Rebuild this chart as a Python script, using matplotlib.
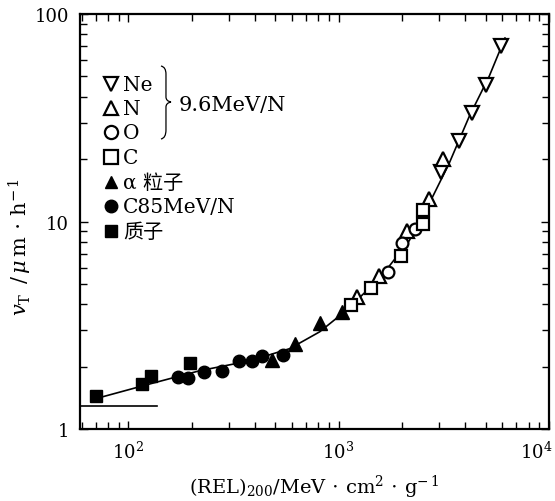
import matplotlib
matplotlib.use("Agg")
import matplotlib.pyplot as plt
from matplotlib.path import Path
from matplotlib.patches import PathPatch
from matplotlib.ticker import LogLocator, NullFormatter
from matplotlib.transforms import ScaledTranslation

plt.rcParams['font.family'] = ['DejaVu Serif', 'Noto Sans CJK SC']
plt.rcParams['mathtext.fontset'] = 'dejavuserif'

# values: (REL)200 in MeV cm^2/g, v_T in um/h
ne_x = [3080, 3740, 4310, 5020, 5930]
ne_y = [17.4, 24.3, 33.2, 45.4, 70.0]
n_x = [1230, 1560, 2120, 2700, 3150]
n_y = [4.34, 5.48, 9.05, 12.9, 19.9]
o_x = [1710, 2010, 2320]
o_y = [5.73, 7.92, 9.25]
c_x = [1150, 1420, 1990, 2530, 2530]
c_y = [3.97, 4.80, 6.85, 9.78, 11.3]
alpha_x = [481, 618, 813, 1033]
alpha_y = [2.15, 2.57, 3.25, 3.67]
c85_x = [173, 192, 229, 279, 336, 387, 432, 543]
c85_y = [1.78, 1.76, 1.88, 1.91, 2.13, 2.13, 2.25, 2.28]
proton_x = [70, 116, 128, 197]
proton_y = [1.44, 1.65, 1.80, 2.08]

# hand-drawn trend curve through the points
fit_x = [70, 127, 219, 378, 586, 813, 1067, 1563, 2168, 2698, 3357, 4180, 5200, 6180]
fit_y = [1.40, 1.65, 1.91, 2.13, 2.44, 2.94, 3.67, 5.30, 8.09, 12.2, 19.1, 32.1, 50.1, 76.6]

# short horizontal reference line at the lower left
base_x = [59, 137]
base_y = [1.29, 1.29]

legend_labels = ['Ne', 'N', 'O', 'C', 'α 粒子', 'C85MeV/N', '质子']

fig = plt.figure(figsize=(5.55, 5.02), dpi=100)
ax = fig.add_axes([0.1441, 0.1434, 0.845, 0.8267])
ax.set_xscale('log')
ax.set_yscale('log')
ax.set_xlim(59, 10000)
ax.set_ylim(1, 100)

ax.plot(fit_x, fit_y, color='black', lw=1.2, zorder=2)
ax.plot(base_x, base_y, color='black', lw=1.2, zorder=2)

open_kw = dict(ls='none', mfc='white', mec='black', mew=1.6, zorder=3)
fill_kw = dict(ls='none', color='black', zorder=3)
styles = [
    (ne_x, ne_y, 'v', 10, open_kw),
    (n_x, n_y, '^', 10, open_kw),
    (o_x, o_y, 'o', 8.5, open_kw),
    (c_x, c_y, 's', 8.5, open_kw),
    (alpha_x, alpha_y, '^', 10, fill_kw),
    (c85_x, c85_y, 'o', 9, fill_kw),
    (proton_x, proton_y, 's', 8.5, fill_kw),
]
for xs, ys, m, ms, kw in styles:
    ax.plot(xs, ys, marker=m, ms=ms, **kw)

# legend drawn by hand, like the original figure
W, H = 469.0, 415.0


def px(x, y):
    return ((x - 80) / W, (430 - y) / H)


rows = [85, 109, 133, 158, 183, 207, 232]
leg_ms = [10, 10, 9.5, 9.5, 8, 9, 8]
for (xs, ys, m, ms, kw), lab, yy, lms in zip(styles, legend_labels, rows, leg_ms):
    mx, my = px(111, yy)
    ax.plot([mx], [my], marker=m, ms=lms, transform=ax.transAxes, clip_on=False, **kw)
    tx, ty = px(123, yy)
    ax.text(tx, ty, lab, transform=ax.transAxes, fontsize=14.5, va='center', ha='left')

# brace grouping the 9.6 MeV/N ions
bx = [(161, 67), (166, 68), (166, 75),
      (166, 98), (166, 102), (171, 103),
      (166, 104), (166, 108), (166, 131),
      (166, 139), (161, 140)]
verts = [px(*p) for p in bx]
codes = [Path.MOVETO, Path.CURVE3, Path.CURVE3,
         Path.LINETO, Path.CURVE3, Path.CURVE3,
         Path.CURVE3, Path.CURVE3, Path.LINETO,
         Path.CURVE3, Path.CURVE3]
ax.add_patch(PathPatch(Path(verts, codes), fc='none', ec='black', lw=0.9,
                       transform=ax.transAxes, clip_on=False))
tx, ty = px(179, 105)
ax.text(tx, ty, '9.6MeV/N', transform=ax.transAxes, fontsize=15, va='center', ha='left')

ax.set_xticks([100, 1000, 10000])
ax.set_xticklabels([r'$10^2$', r'$10^3$', r'$10^4$'])
ax.xaxis.set_minor_locator(LogLocator(base=10, subs=range(2, 10)))
ax.xaxis.set_minor_formatter(NullFormatter())
ax.set_yticks([1, 10, 100])
ax.set_yticklabels(['1', '10', '100'])
ax.yaxis.set_minor_locator(LogLocator(base=10, subs=range(2, 10)))
ax.yaxis.set_minor_formatter(NullFormatter())

ax.tick_params(which='both', direction='in', top=True, right=True, width=1.0, labelsize=13)
ax.tick_params(which='major', length=6, pad=8)
ax.tick_params(which='minor', length=5)
for s in ax.spines.values():
    s.set_linewidth(1.6)

# last x tick label sits a little left so it is not cut at the edge
last = ax.get_xticklabels()[-1]
last.set_transform(last.get_transform() + ScaledTranslation(-13 / 100, 0, fig.dpi_scale_trans))

ax.set_xlabel(r'(REL)$_{200}$/MeV$\,\cdot\,$cm$^2\,\cdot\,$g$^{-\,1}$', fontsize=14, labelpad=8)
ax.set_ylabel(r'$v_{\rm T}$ $\,$/$\,\mu\,$m$\,\cdot\,$h$^{-\,1}$', fontsize=15)
ax.yaxis.label.set_verticalalignment('center')
ax.yaxis.set_label_coords(-0.128, 0.44)

fig.savefig('out.png', dpi=100)
